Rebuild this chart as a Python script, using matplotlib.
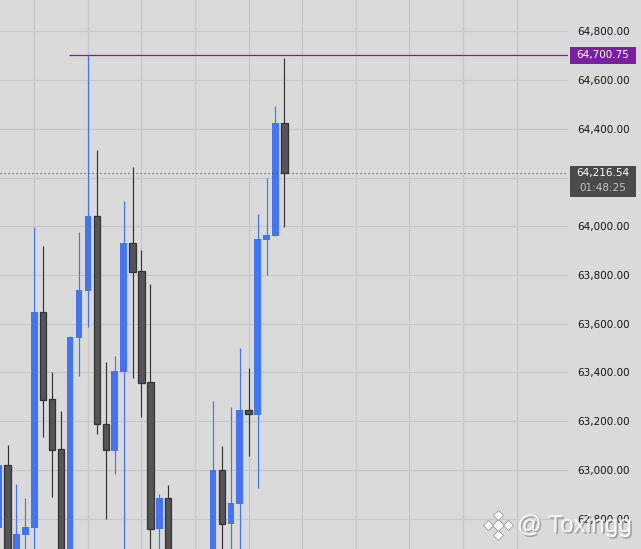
import matplotlib
matplotlib.use("Agg")
import matplotlib.pyplot as plt
import matplotlib.patheffects as pe
from matplotlib.patches import Rectangle

# candle data (index 20-23 sit below the visible range)
opens = [62763, 63019, 62600, 62734, 62763, 63648, 63290, 63085, 62620, 63543,
         63736, 64042, 63189, 63078, 63403, 63931, 63816, 63361, 62758, 62884,
         62560, 62450, 62520, 62480, 62560, 62999, 62780, 62862, 63246, 63227,
         63945, 63961, 64424]
highs = [63030, 63102, 62942, 62885, 63997, 63919, 63402, 63242, 63550, 63976,
         64700.75, 64313, 63443, 63468, 64104, 64243, 63903, 63763, 62901, 62938,
         62640, 62600, 62650, 62620, 63283, 63098, 63258, 63500, 63418, 64050,
         64198, 64493, 64690]
lows = [62740, 62560, 62560, 62600, 62620, 63137, 62889, 62580, 62590, 63387,
        63588, 63149, 62800, 62985, 62640, 63379, 63219, 62600, 62620, 62520,
        62400, 62350, 62420, 62380, 62500, 62600, 62620, 62640, 63059, 62927,
        63800, 63961, 63998]
closes = [63020, 62600, 62737, 62766, 63648, 63288, 63083, 62620, 63546, 63738,
          64042, 63188, 63081, 63406, 63931, 63814, 63358, 62759, 62885, 62560,
          62450, 62520, 62480, 62560, 63000, 62780, 62865, 63246, 63228, 63948,
          63964, 64424, 64216.54]

price_ticks = [62800, 63000, 63200, 63400, 63600, 63800, 64000, 64200, 64400, 64600, 64800]
high_mark = 64700.75
last_price = 64216.54
countdown = "01:48:25"

BG = "#dadada"
UP = "#4173fb"
DOWN = "#555555"
DOWN_EDGE = "#333333"

W, H = 641, 549
fig = plt.figure(figsize=(W / 100, H / 100), dpi=100, facecolor=BG)
ylim = (62675.8, 64928.4)

ax = fig.add_axes([0, 0, 568 / W, 1])
ax.set_facecolor(BG)
ax.set_xlim(0.159, 63.76)
ax.set_ylim(*ylim)
for s in ax.spines.values():
    s.set_visible(False)

ax.set_xticks(range(4, 64, 6))
ax.set_xticklabels([])
ax.set_yticks(price_ticks)
ax.set_yticklabels(["" if p == 64200 else f"{p:,.2f}" for p in price_ticks])
ax.yaxis.tick_right()
ax.tick_params(axis="x", length=0)
ax.tick_params(axis="y", length=0, pad=7, labelsize=7.5, labelcolor="#141414")
ax.grid(True, color="#c7c7c7", linewidth=0.8, zorder=0)
ax.set_axisbelow(True)

for i, (o, h, l, c) in enumerate(zip(opens, highs, lows, closes)):
    up = c >= o
    col = UP if up else DOWN_EDGE
    ax.vlines(i, l, h, color=col, linewidth=0.85, zorder=2)
    ax.bar(i, abs(c - o), bottom=min(o, c), width=0.72,
           color=UP if up else DOWN, edgecolor=UP if up else DOWN_EDGE,
           linewidth=0 if up else 0.9, zorder=3)

ax.hlines(high_mark, 7.89, 63.76, color="#7b1fa2", linewidth=0.9, zorder=4)
ax.axhline(last_price, color="#444444", linewidth=0.8, linestyle=(0, (1, 2.6)), zorder=4)

# price scale labels
pax = fig.add_axes([568 / W, 0, 73 / W, 1])
pax.set_xlim(0, 73)
pax.set_ylim(*ylim)
pax.axis("off")
pax.add_patch(Rectangle((2, high_mark - 35), 66, 70, color="#7b1fa2", lw=0))
pax.text(35, high_mark, f"{high_mark:,.2f}", color="white", fontsize=7.5,
         ha="center", va="center")
pax.add_patch(Rectangle((2, 64120), 66, 127, color="#4a4a4a", lw=0))
pax.text(35, last_price + 2, f"{last_price:,.2f}", color="white", fontsize=7.5,
         ha="center", va="center")
pax.text(35, 64159, countdown, color="#c4c4c4", fontsize=7.5,
         ha="center", va="center")

# watermark
oax = fig.add_axes([0, 0, 1, 1])
oax.set_xlim(0, W)
oax.set_ylim(H, 0)
oax.axis("off")
shadow = [pe.SimplePatchShadow(offset=(1.2, -1.2), shadow_rgbFace="#8a8a8a", alpha=0.7), pe.Normal()]
oax.text(517, 526, "@ Toxingg", fontsize=17.5, color="white", family="Liberation Sans",
         ha="left", va="center", alpha=0.9, path_effects=shadow)
lx, ly = 498, 525
oax.plot([lx], [ly], marker="D", markersize=6.5, color="white", mec="#9a9a9a", mew=0.6)
for dx, dy in [(-10, 0), (10, 0), (0, -10), (0, 10)]:
    oax.plot([lx + dx], [ly + dy], marker="D", markersize=5, color="white",
             mec="#9a9a9a", mew=0.6)

fig.savefig("out.png", dpi=100, facecolor=BG)
